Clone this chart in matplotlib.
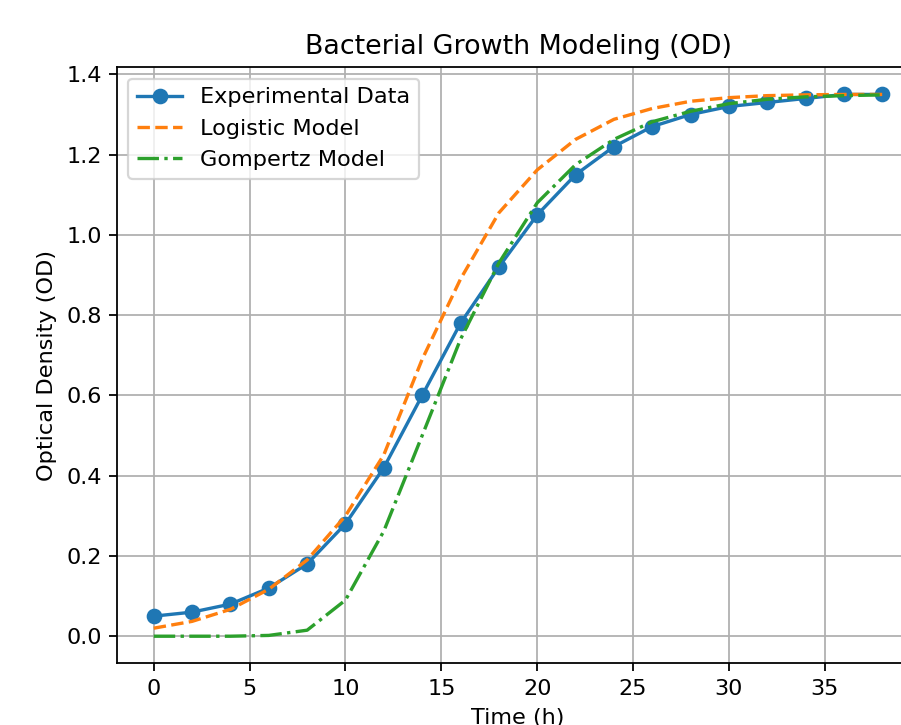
import matplotlib
matplotlib.use("Agg")
import matplotlib.pyplot as plt

time_h = [0, 2, 4, 6, 8, 10, 12, 14, 16, 18, 20, 22, 24, 26, 28, 30, 32, 34, 36, 38]
experimental = [0.05, 0.06, 0.08, 0.12, 0.18, 0.28, 0.42, 0.60, 0.78, 0.92,
                1.05, 1.15, 1.22, 1.27, 1.30, 1.32, 1.33, 1.34, 1.35, 1.35]
logistic = [0.020, 0.037, 0.067, 0.117, 0.190, 0.300, 0.452, 0.690, 0.890, 1.055,
            1.162, 1.238, 1.288, 1.315, 1.333, 1.342, 1.347, 1.349, 1.350, 1.350]
gompertz = [0.000, 0.000, 0.000, 0.002, 0.015, 0.090, 0.262, 0.500, 0.740, 0.930,
            1.080, 1.175, 1.238, 1.282, 1.308, 1.327, 1.338, 1.344, 1.347, 1.349]

DPI = 161
fig = plt.figure(figsize=(901 / DPI, 725 / DPI), dpi=DPI)
ax = fig.add_axes([117.3 / 901, 0.0851, 801.5 / 901, 0.822])

ax.plot(time_h, experimental, "o-", label="Experimental Data")
ax.plot(time_h, logistic, "--", label="Logistic Model")
ax.plot(time_h, gompertz, "-.", label="Gompertz Model")

ax.set_title("Bacterial Growth Modeling (OD)")
ax.set_xlabel("Time (h)")
ax.set_ylabel("Optical Density (OD)")
ax.legend(loc="upper left")
ax.grid(True)
ax.spines["right"].set_visible(False)

fig.savefig("out.png", dpi=DPI)
